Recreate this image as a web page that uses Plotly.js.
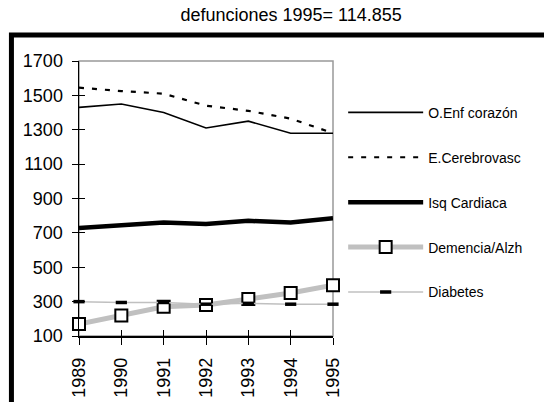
<!DOCTYPE html>
<html>
<head>
<meta charset="utf-8">
<script src="https://cdn.plot.ly/plotly-3.0.1.min.js"></script>
<style>html,body{margin:0;padding:0;background:#fff;}#chart{width:544px;height:402px;}</style>
</head>
<body>
<div id="chart"></div>
<script>
// datos
const years=[1989,1990,1991,1992,1993,1994,1995];
const enfCorazon=[1430,1450,1400,1310,1350,1280,1280];
const cerebrovasc=[1545,1525,1510,1440,1410,1365,1280];
const isqCardiaca=[728,745,760,752,770,760,785];
const demencia=[170,220,270,280,315,350,395];
const diabetes=[300,295,295,285,290,285,285];

const fontF='Arial, "Liberation Sans", sans-serif';

const traces=[
  {x:years,y:enfCorazon,name:'O.Enf corazón',mode:'lines',line:{color:'#000',width:1.6},legendgroup:'a'},
  {x:years,y:cerebrovasc,name:'E.Cerebrovasc',mode:'lines',line:{color:'#000',width:2.2,dash:'5px,8px'},legendgroup:'b'},
  {x:years,y:isqCardiaca,name:'Isq Cardiaca',mode:'lines',line:{color:'#000',width:4.5},legendgroup:'c'},
  {x:years,y:demencia,name:'Demencia/Alzh',mode:'lines+markers',line:{color:'#c0c0c0',width:5},
    marker:{symbol:'square',size:12,color:'#fff',line:{color:'#000',width:2}},legendgroup:'d'},
  {x:years,y:diabetes,name:'Diabetes',mode:'lines+markers',line:{color:'#c0c0c0',width:1.5},
    marker:{symbol:'line-ew',size:8,line:{color:'#000',width:3.5}},legendgroup:'e'}
].map(t=>Object.assign(t,{type:'scatter',cliponaxis:false}));

// eje duplicado solo para que las marcas crucen el eje
traces.push({x:[years[0]],y:[100],xaxis:'x2',yaxis:'y2',mode:'markers',marker:{opacity:0},showlegend:false,hoverinfo:'skip',type:'scatter'});

const layout={
  width:544,height:402,
  margin:{l:79,r:211,t:61,b:66},
  paper_bgcolor:'#fff',plot_bgcolor:'#fff',
  font:{family:fontF,color:'#000'},
  title:{text:'defunciones 1995= 114.855',font:{size:18,family:fontF},xref:'paper',x:0.835,xanchor:'center',yref:'container',y:0.963,yanchor:'middle'},
  xaxis:{range:[1989,1995],tickvals:years,ticktext:years.map(String),tickangle:-90,ticks:'outside',ticklen:7,tickcolor:'#000',ticklabelstandoff:6,
    showline:true,linecolor:'#000',linewidth:1.5,showgrid:false,zeroline:false,tickfont:{size:18},fixedrange:true},
  yaxis:{range:[100,1700],dtick:200,tick0:100,ticks:'outside',ticklen:6,tickcolor:'#000',ticklabelstandoff:5,
    showline:true,linecolor:'#000',linewidth:1.5,showgrid:false,zeroline:false,tickfont:{size:18},fixedrange:true},
  xaxis2:{overlaying:'x',anchor:'y2',side:'bottom',range:[1989,1995],tickvals:years,ticks:'inside',ticklen:6,tickcolor:'#000',
    showticklabels:false,showline:false,showgrid:false,zeroline:false,fixedrange:true},
  yaxis2:{overlaying:'y',anchor:'x2',side:'left',range:[100,1700],dtick:200,tick0:100,ticks:'inside',ticklen:6,tickcolor:'#000',
    showticklabels:false,showline:false,showgrid:false,zeroline:false,fixedrange:true},
  showlegend:true,
  legend:{x:1.04,xanchor:'left',y:0.87,yanchor:'top',traceorder:'grouped',tracegroupgap:23.7,itemwidth:75,
    font:{size:14,family:fontF},bgcolor:'rgba(0,0,0,0)',itemclick:false,itemdoubleclick:false},
  shapes:[
    {type:'rect',xref:'paper',yref:'paper',x0:0,x1:1,y0:0,y1:1,line:{color:'#999',width:1.5},layer:'below'},
    {type:'rect',xref:'paper',yref:'paper',x0:-0.266,x1:1.95,y0:-0.35,y1:1.0945,line:{color:'#000',width:5},layer:'below'}
  ]
};

Plotly.newPlot('chart',traces,layout,{displayModeBar:false,staticPlot:true});
</script>
</body>
</html>
